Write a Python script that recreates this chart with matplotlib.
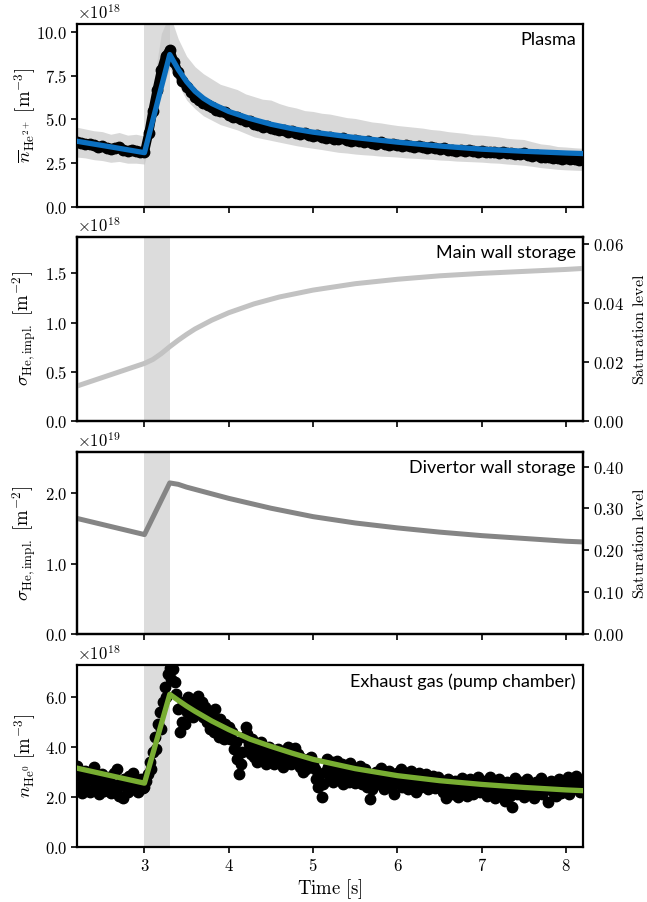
import numpy as np
import matplotlib
matplotlib.use("Agg")
import matplotlib.pyplot as plt
from matplotlib.ticker import FuncFormatter, FixedLocator

plt.rcParams['mathtext.fontset'] = 'cm'
plt.rcParams['font.family'] = ['DejaVu Sans']

# ---------------- data (values in units of the offset shown on each panel) ----------------
# Panel 1: plasma He2+ density  (x1e18 m^-3), sampled every 0.05 s from 2.2 s to 8.2 s
plasma_meas = [3.70, 3.64, 3.58, 3.62, 3.52, 3.44, 3.48, 3.38, 3.30, 3.36,
               3.42, 3.28, 3.20, 3.26, 3.22, 3.16, 3.12, 4.20, 5.50, 6.70,
               7.80, 8.60, 8.95, 8.30, 7.70, 7.20, 6.85, 6.55, 6.30, 6.10,
               5.95, 5.80, 5.70, 5.55, 5.45, 5.40, 5.25, 5.15, 5.12, 5.00,
               4.92, 4.88, 4.72, 4.68, 4.58, 4.62, 4.50, 4.44, 4.38, 4.42,
               4.30, 4.32, 4.20, 4.16, 4.22, 4.10, 4.06, 4.08, 3.98, 3.96,
               4.00, 3.90, 3.86, 3.92, 3.80, 3.78, 3.84, 3.74, 3.70, 3.76,
               3.66, 3.62, 3.68, 3.58, 3.56, 3.62, 3.52, 3.50, 3.56, 3.46,
               3.44, 3.50, 3.40, 3.38, 3.44, 3.34, 3.32, 3.36, 3.26, 3.28,
               3.22, 3.26, 3.20, 3.24, 3.18, 3.16, 3.20, 3.14, 3.12, 3.16,
               3.10, 3.12, 3.06, 3.10, 3.04, 3.00, 3.06, 2.96, 2.92, 2.96,
               2.86, 2.84, 2.88, 2.80, 2.82, 2.76, 2.78, 2.72, 2.74, 2.68,
               2.66]
# uncertainty band, sampled every 0.1 s
plasma_band_hi = [4.55, 4.45, 4.35, 4.30, 4.15, 4.25, 4.10, 4.15, 4.05, 6.80,
                  9.90, 11.0, 9.60, 8.60, 8.00, 7.60, 7.30, 7.00, 6.85, 6.70,
                  6.45, 6.30, 6.15, 6.10, 5.90, 5.75, 5.65, 5.50, 5.45, 5.35,
                  5.30, 5.20, 5.10, 5.05, 4.95, 4.85, 4.80, 4.72, 4.65, 4.60,
                  4.55, 4.50, 4.42, 4.38, 4.30, 4.25, 4.20, 4.12, 4.10, 4.05,
                  4.00, 3.92, 3.88, 3.85, 3.72, 3.60, 3.55, 3.45, 3.42, 3.38,
                  3.35]
plasma_band_lo = [2.85, 2.80, 2.70, 2.65, 2.55, 2.60, 2.50, 2.50, 2.45, 4.40,
                  6.60, 7.90, 7.00, 6.10, 5.60, 5.20, 4.95, 4.70, 4.55, 4.40,
                  4.20, 4.00, 3.90, 3.80, 3.70, 3.60, 3.50, 3.42, 3.35, 3.28,
                  3.20, 3.12, 3.08, 3.02, 2.98, 2.95, 2.90, 2.88, 2.85, 2.80,
                  2.78, 2.75, 2.72, 2.68, 2.66, 2.62, 2.60, 2.58, 2.56, 2.52,
                  2.50, 2.45, 2.42, 2.38, 2.32, 2.25, 2.20, 2.15, 2.12, 2.10,
                  2.08]
plasma_model_t = [2.2, 2.6, 3.0, 3.3, 3.4, 3.5, 3.6, 3.7, 3.8, 4.0, 4.25, 4.5,
                  4.75, 5.0, 5.5, 6.0, 6.5, 7.0, 7.5, 8.0, 8.2]
plasma_model = [3.75, 3.43, 3.10, 8.70, 7.85, 7.15, 6.60, 6.20, 5.90, 5.45, 5.05,
                4.72, 4.47, 4.27, 3.96, 3.70, 3.48, 3.30, 3.18, 3.08, 3.05]

# Panel 2: main wall storage (x1e18 m^-2)
main_t = [2.2, 2.6, 3.0, 3.1, 3.2, 3.3, 3.4, 3.5, 3.6, 3.8, 4.0, 4.3, 4.6,
          5.0, 5.5, 6.0, 6.5, 7.0, 7.5, 8.0, 8.2]
main_wall = [0.355, 0.47, 0.585, 0.625, 0.685, 0.755, 0.82, 0.88, 0.935, 1.025,
             1.10, 1.19, 1.26, 1.33, 1.395, 1.44, 1.475, 1.50, 1.52, 1.54, 1.55]
main_sat_max = 0.0623

# Panel 3: divertor wall storage (x1e19 m^-2)
div_t = [2.2, 3.0, 3.3, 3.4, 3.5, 3.75, 4.0, 4.5, 5.0, 5.5, 6.0, 6.5, 7.0,
         7.5, 8.0, 8.2]
div_wall = [1.645, 1.415, 2.15, 2.13, 2.09, 2.01, 1.93, 1.79, 1.67, 1.58,
            1.51, 1.45, 1.40, 1.36, 1.32, 1.31]
div_sat_max = 0.435

# Panel 4: exhaust gas (x1e18 m^-3), sampled every 0.02 s from 2.2 s to 8.2 s
exhaust_meas = [
    3.25, 2.40, 2.85, 2.15, 2.60, 3.05, 2.30, 2.70, 2.20, 2.95,
    3.20, 2.45, 2.75, 2.10, 2.55, 2.90, 2.25, 2.65, 2.35, 2.80,
    2.15, 2.50, 2.95, 2.25, 3.10, 2.05, 2.60, 1.95, 2.70, 2.40,
    2.20, 2.85, 2.55, 2.95, 2.30, 2.60, 2.20, 2.45, 2.70, 2.35,
    2.40, 2.65, 2.90, 3.40, 3.10, 3.80, 4.40, 3.90, 4.90, 5.40,
    4.70, 5.80, 6.40, 6.00, 6.90, 7.15, 6.70, 7.10,
    6.60, 6.10, 5.50, 4.60, 5.00, 5.80, 4.90, 5.40, 6.00, 5.30,
    5.70, 5.20, 5.90, 5.50, 6.05, 5.40, 5.80, 5.20,
    5.60, 5.00, 5.40, 4.70, 5.20, 4.60, 5.50, 4.90, 4.40, 5.10,
    4.70, 4.30, 4.90, 4.50, 4.80,
    4.30, 4.60, 3.90, 4.20, 3.50, 2.90, 3.30, 3.80, 4.40, 4.80,
    4.50, 4.10, 3.70, 4.30, 3.60, 4.00, 3.40, 3.80, 4.20, 3.50,
    3.90, 3.30, 3.70, 4.00, 3.50,
    3.80, 3.30, 3.60, 3.90, 3.40, 3.70, 3.20, 3.50, 3.85, 4.00,
    3.60, 3.30, 3.75, 3.95, 3.45, 3.70, 3.20, 3.55, 3.00, 3.40,
    3.10, 3.50, 3.25, 3.60, 3.30,
    3.10, 2.70, 2.40, 2.90, 2.00, 2.50, 3.00, 3.50, 3.20, 2.80,
    3.40, 2.60, 3.10, 3.45, 2.70, 3.00, 3.30, 2.50, 2.90, 3.20,
    2.60, 3.35, 2.80, 3.05, 2.55,
    3.00, 2.70, 3.25, 2.50, 2.90, 3.10, 2.40, 2.80, 1.90, 2.30,
    2.70, 3.00, 2.50, 2.85, 3.15, 2.60, 2.30, 2.90, 2.55, 3.05,
    2.40, 2.75, 2.10, 2.60, 2.95,
    2.60, 3.10, 2.40, 2.80, 2.95, 2.30, 2.70, 3.05, 2.50, 2.85,
    2.20, 2.65, 2.95, 2.40, 2.75, 2.55, 2.90, 2.30, 2.70, 2.50,
    2.85, 2.35, 2.60, 2.80, 2.45,
    2.60, 2.20, 2.45, 1.95, 2.70, 2.30, 2.55, 2.10, 2.65, 2.40,
    2.00, 2.50, 2.75, 2.25, 2.55, 2.05, 2.45, 2.70, 2.30, 2.10,
    2.60, 2.35, 2.80, 2.20, 2.50,
    2.30, 2.65, 2.05, 2.45, 2.80, 2.20, 2.55, 1.95, 2.40, 2.70,
    2.15, 2.50, 2.25, 1.85, 2.60, 2.35, 2.05, 1.60, 2.30, 2.75,
    2.10, 2.45, 2.20, 2.60, 2.00,
    2.40, 2.70, 2.15, 2.50, 2.30, 1.95, 2.60, 2.25, 2.45, 2.75,
    2.10, 2.55, 2.30, 1.80, 2.40, 2.65, 2.20, 2.50, 2.05, 2.35,
    2.70, 2.15, 2.45, 2.60, 2.25, 2.80, 2.10, 2.50, 2.35, 2.65,
    2.85, 2.40, 2.20, 2.60, 2.45]
exhaust_model_t = [2.2, 3.0, 3.3, 3.4, 3.5, 3.6, 3.8, 4.0, 4.25, 4.5, 4.75,
                   5.0, 5.5, 6.0, 6.5, 7.0, 7.5, 8.0, 8.2]
exhaust_model = [3.15, 2.55, 6.10, 5.86, 5.63, 5.42, 5.03, 4.69, 4.31, 4.02,
                 3.75, 3.50, 3.13, 2.85, 2.65, 2.50, 2.38, 2.28, 2.25]

puff_window = (3.0, 3.3)
xlim = (2.2, 8.2)
xticks = [3, 4, 5, 6, 7, 8]

# ---------------- figure ----------------
fig = plt.figure(figsize=(6.47, 9.02), dpi=100)
L, W = 0.119, 0.782
axes_rects = [(L, 0.7705, W, 0.2029), (L, 0.5333, W, 0.2040),
              (L, 0.2971, W, 0.2018), (L, 0.0610, W, 0.2017)]
axs = [fig.add_axes(r) for r in axes_rects]

TICKFS = 12
LABFS = 13.5
SPINE_W = 1.6
shade = '#dcdcdc'


def mt(fmt):
    return FuncFormatter(lambda v, p: ('$' + fmt + '$') % v)


def style(ax, yticks, yfmt, ylim, bottom=False):
    ax.set_xlim(*xlim)
    ax.set_ylim(*ylim)
    ax.xaxis.set_major_locator(FixedLocator(xticks))
    ax.yaxis.set_major_locator(FixedLocator(yticks))
    ax.yaxis.set_major_formatter(mt(yfmt))
    if bottom:
        ax.xaxis.set_major_formatter(mt('%d'))
    else:
        ax.xaxis.set_major_formatter(FuncFormatter(lambda v, p: ''))
    ax.tick_params(direction='out', length=4, width=1.2, labelsize=TICKFS, pad=3)
    for s in ax.spines.values():
        s.set_linewidth(SPINE_W)
    ax.axvspan(*puff_window, color=shade, lw=0, zorder=0)


def twin(ax, ymax, ticks):
    tx = ax.twinx()
    tx.set_ylim(0, ymax)
    tx.yaxis.set_major_locator(FixedLocator(ticks))
    tx.yaxis.set_major_formatter(mt('%.2f'))
    tx.tick_params(direction='out', length=4, width=1.2, labelsize=TICKFS, pad=3)
    for s in tx.spines.values():
        s.set_linewidth(SPINE_W)
    tx.set_ylabel(r'$\mathrm{Saturation\ level}$', fontsize=11.5)
    tx.yaxis.set_label_coords(1.097, 0.5)
    return tx


def label_box(ax, txt):
    ax.text(0.986, 0.955, txt, transform=ax.transAxes, ha='right', va='top',
            fontsize=13, family='Lato')


def offset(ax, txt):
    ax.text(0.0, 1.003, txt, transform=ax.transAxes, ha='left', va='bottom',
            fontsize=TICKFS)


# Panel 1
ax = axs[0]
style(ax, [0, 2.5, 5.0, 7.5, 10.0], '%.1f', (0, 10.44))
tb = np.linspace(xlim[0], xlim[1], len(plasma_band_hi))
ax.fill_between(tb, plasma_band_lo, plasma_band_hi, color='#c8c8c8', alpha=0.7,
                lw=0, zorder=1)
tm = np.linspace(xlim[0], xlim[1], len(plasma_meas))
ax.plot(tm, plasma_meas, '-o', color='black', lw=6.5, ms=7.5, zorder=2)
ax.plot(plasma_model_t, plasma_model, color='#0b6fbf', lw=3.8, zorder=3)
ax.set_ylabel(r'$\overline{n}_{\mathrm{He}^{2+}}\ [\mathrm{m}^{-3}]$', fontsize=LABFS)
label_box(ax, 'Plasma')
offset(ax, r'$\times10^{18}$')

# Panel 2
ax = axs[1]
style(ax, [0, 0.5, 1.0, 1.5], '%.1f', (0, 1.87))
ax.plot(main_t, main_wall, color='#c2c2c2', lw=3.6, zorder=3)
ax.set_ylabel(r'$\sigma_{\mathrm{He,impl.}}\ [\mathrm{m}^{-2}]$', fontsize=LABFS)
label_box(ax, 'Main wall storage')
offset(ax, r'$\times10^{18}$')
twin(ax, main_sat_max, [0, 0.02, 0.04, 0.06])

# Panel 3
ax = axs[2]
style(ax, [0, 1.0, 2.0], '%.1f', (0, 2.59))
ax.plot(div_t, div_wall, color='#858585', lw=3.6, zorder=3)
ax.set_ylabel(r'$\sigma_{\mathrm{He,impl.}}\ [\mathrm{m}^{-2}]$', fontsize=LABFS)
label_box(ax, 'Divertor wall storage')
offset(ax, r'$\times10^{19}$')
twin(ax, div_sat_max, [0, 0.1, 0.2, 0.3, 0.4])

# Panel 4
ax = axs[3]
style(ax, [0, 2.0, 4.0, 6.0], '%.1f', (0, 7.27), bottom=True)
te = np.linspace(xlim[0], xlim[1], len(exhaust_meas))
ax.plot(te, exhaust_meas, 'o', color='black', ms=7.5, zorder=2)
ax.plot(exhaust_model_t, exhaust_model, color='#78ad32', lw=3.8, zorder=3)
ax.set_ylabel(r'$n_{\mathrm{He}^0}\ [\mathrm{m}^{-3}]$', fontsize=LABFS)
ax.set_xlabel(r'$\mathrm{Time\ [s]}$', fontsize=LABFS, labelpad=2)
label_box(ax, 'Exhaust gas (pump chamber)')
offset(ax, r'$\times10^{18}$')

for a in axs:
    a.yaxis.set_label_coords(-0.078, 0.5)

fig.savefig('out.png', dpi=100)
